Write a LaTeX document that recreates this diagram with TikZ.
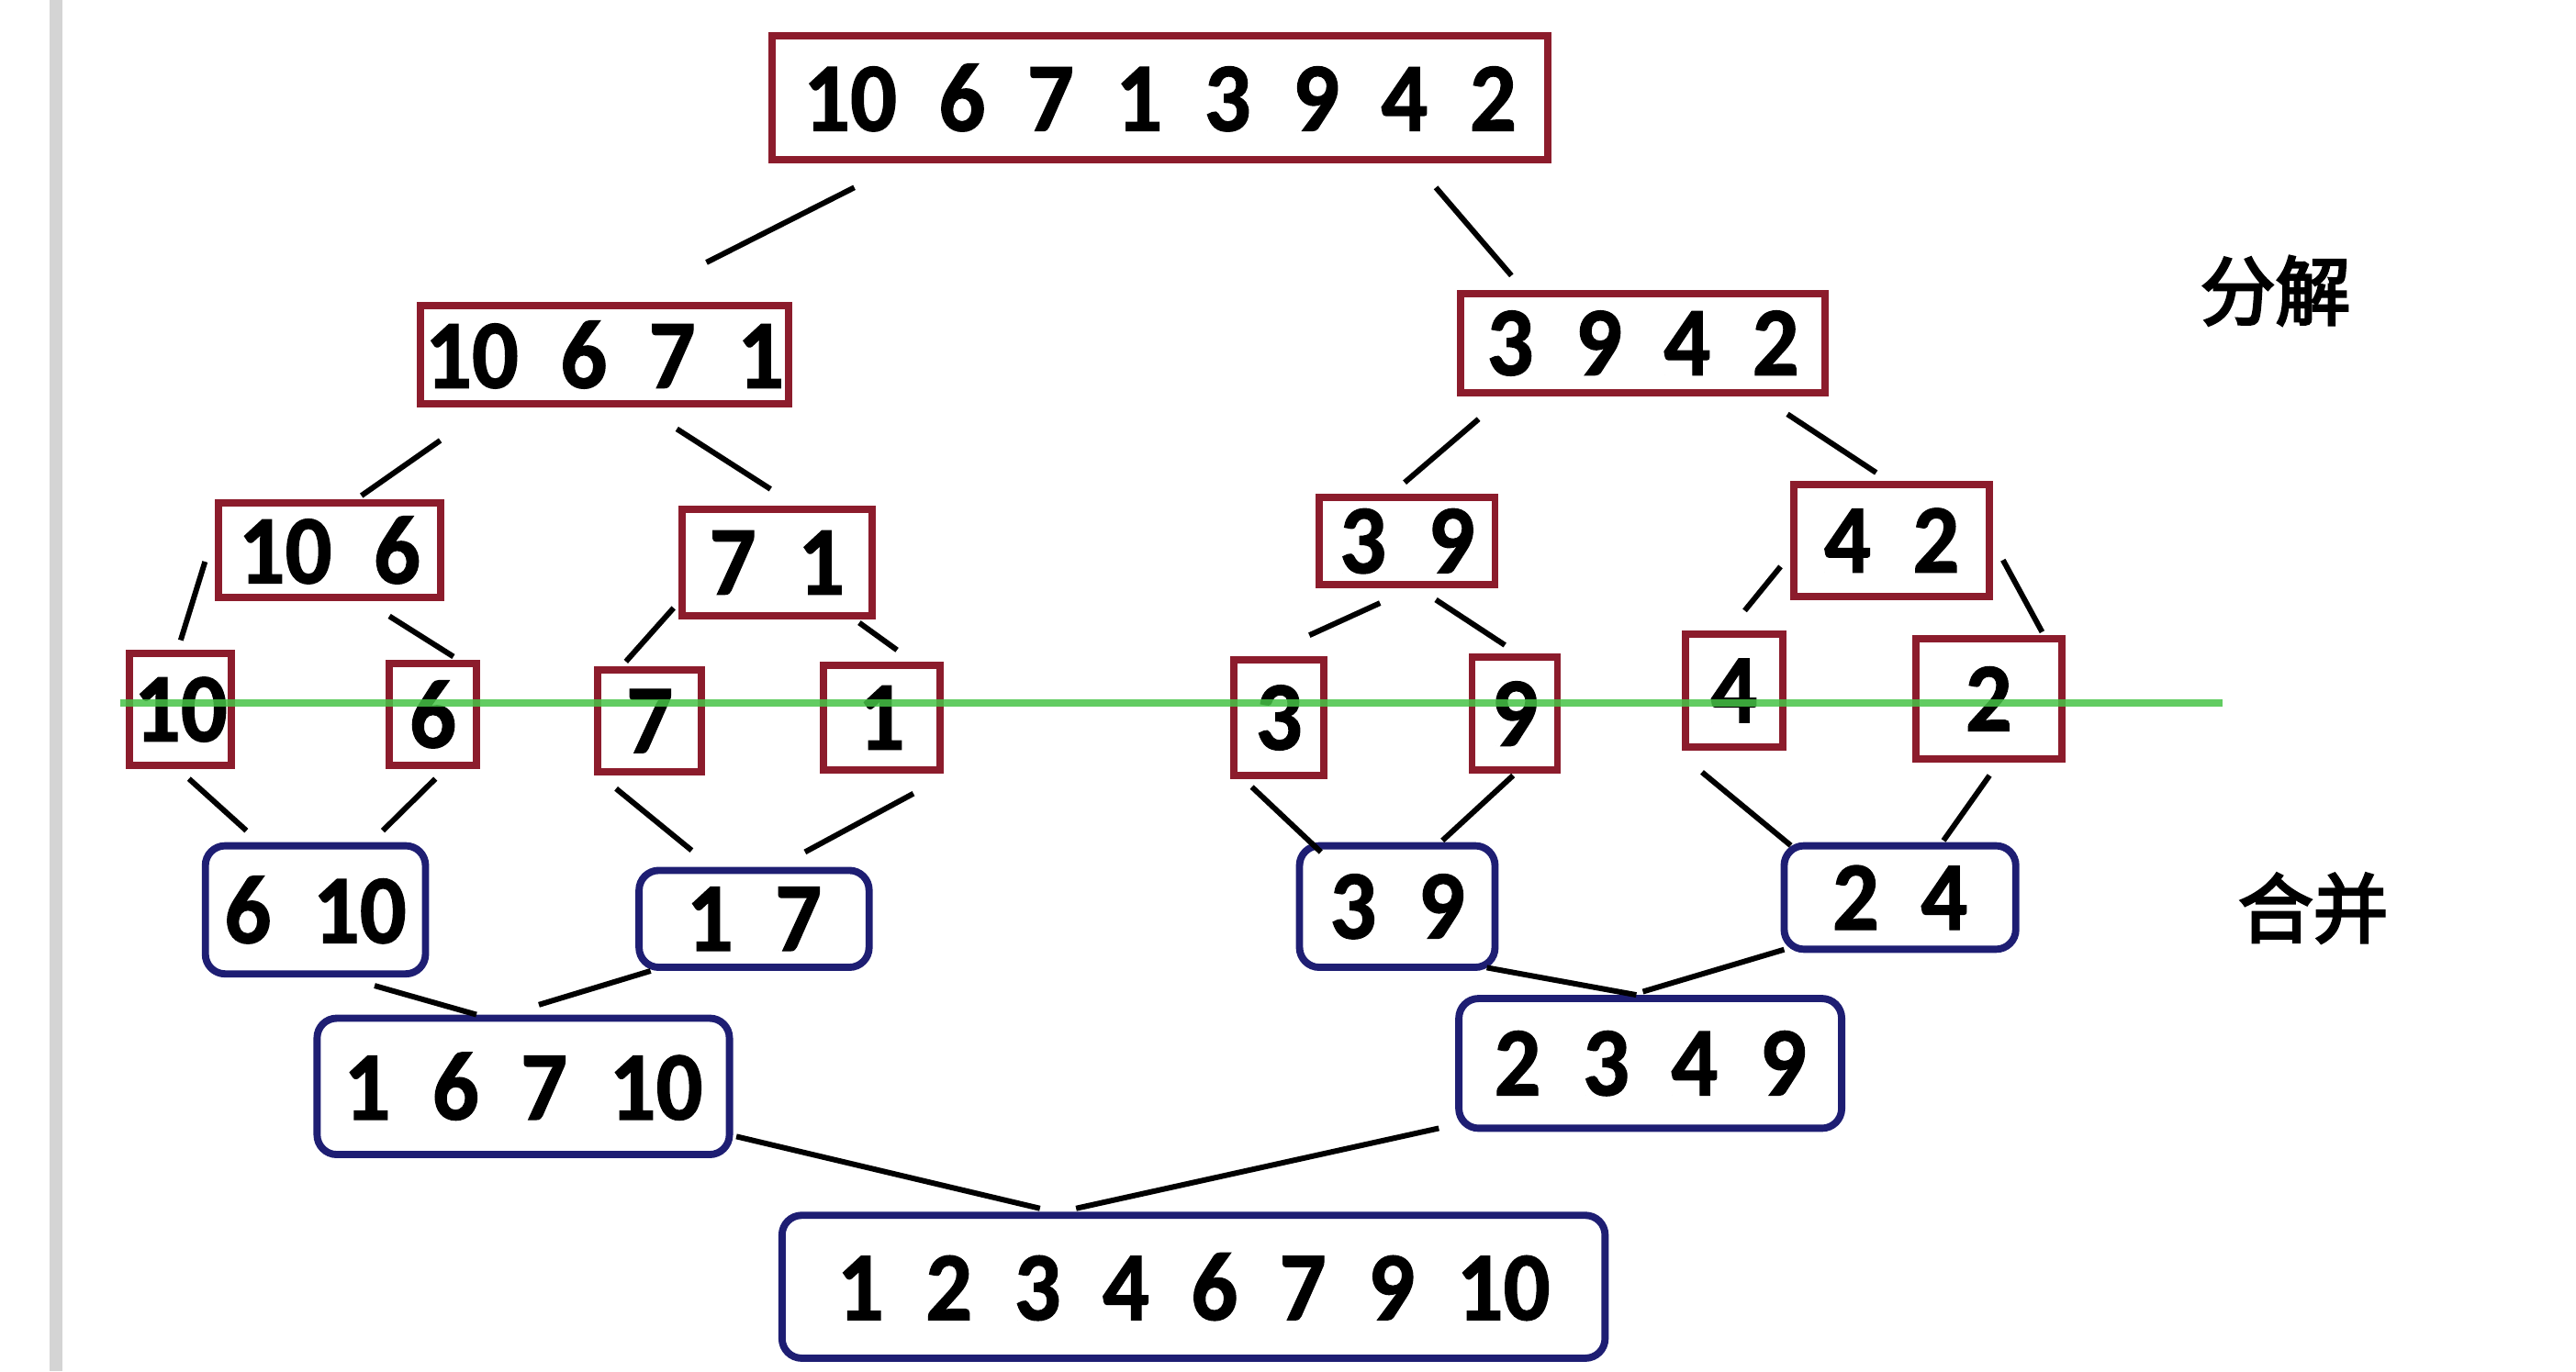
\documentclass[tikz,border=0pt]{standalone}
\usepackage{fontspec}
\setmainfont{Carlito}[BoldFeatures={FakeBold=1.2, FakeStretch=0.94}]
\newfontfamily\cjk[FakeBold=3.5]{Noto Sans CJK SC}
\definecolor{boxred}{RGB}{140,28,44}
\definecolor{boxblue}{RGB}{30,30,115}
\definecolor{cutgreen}{RGB}{70,195,70}
\begin{document}
\begin{tikzpicture}[
    split/.style={draw=boxred, line width=1.25pt, inner sep=0pt,
      font=\bfseries\fontsize{17}{17}\selectfont},
    merge/.style={draw=boxblue, line width=1.25pt, inner sep=0pt, rounded corners=0.12cm,
      font=\bfseries\fontsize{17}{17}\selectfont},
    link/.style={black, line width=0.95pt},
    tag/.style={font=\cjk\fontsize{13}{13}\selectfont}]
        \useasboundingbox (0,0) rectangle (15.68,-8.35);
        \fill[black!17] (0.30,0) rectangle (0.38,-8.35);

        % Decompor
        \node[split, minimum width=4.72cm, minimum height=0.75cm] (top) at (7.06,-0.595) {10~~6~~7~~1~~3~~9~~4~~2};
        \node[split, minimum width=2.24cm, minimum height=0.60cm] (l1) at (3.68,-2.16) {10~~6~~7~~1};
        \node[split, minimum width=2.22cm, minimum height=0.60cm] (r1) at (10.00,-2.09) {3~~9~~4~~2};
        \node[split, minimum width=1.35cm, minimum height=0.58cm] (l2a) at (2.005,-3.35) {10~~6};
        \node[split, minimum width=1.16cm, minimum height=0.65cm] (l2b) at (4.73,-3.425) {7~~1};
        \node[split, minimum width=1.07cm, minimum height=0.53cm] (r2a) at (8.565,-3.295) {3~~9};
        \node[split, minimum width=1.19cm, minimum height=0.68cm] (r2b) at (11.515,-3.29) {4~~2};

        % Elementos isolados
        \node[split, minimum width=0.62cm, minimum height=0.68cm] (s10) at (1.10,-4.32) {10};
        \node[split, minimum width=0.53cm, minimum height=0.62cm] (s6) at (2.635,-4.35) {6};
        \node[split, minimum width=0.63cm, minimum height=0.62cm] (s7) at (3.955,-4.39) {7};
        \node[split, minimum width=0.71cm, minimum height=0.64cm] (s1) at (5.365,-4.37) {1};
        \node[split, minimum width=0.55cm, minimum height=0.70cm] (s3) at (7.785,-4.37) {3};
        \node[split, minimum width=0.52cm, minimum height=0.69cm] (s9) at (9.22,-4.345) {9};
        \node[split, minimum width=0.59cm, minimum height=0.69cm] (s4) at (10.555,-4.205) {4};
        \node[split, minimum width=0.89cm, minimum height=0.73cm] (s2) at (12.105,-4.255) {2};

        % Mesclar
        \node[merge, minimum width=1.34cm, minimum height=0.78cm] (m610) at (1.92,-5.54) {6~~10};
        \node[merge, minimum width=1.40cm, minimum height=0.59cm] (m17) at (4.59,-5.595) {1~~7};
        \node[merge, minimum width=1.19cm, minimum height=0.74cm] (m39) at (8.505,-5.52) {3~~9};
        \node[merge, minimum width=1.41cm, minimum height=0.63cm] (m24) at (11.565,-5.465) {2~~4};
        \node[merge, minimum width=2.51cm, minimum height=0.83cm] (m1) at (3.185,-6.615) {1~~6~~7~~10};
        \node[merge, minimum width=2.33cm, minimum height=0.79cm] (m2) at (10.045,-6.475) {2~~3~~4~~9};
        \node[merge, minimum width=5.01cm, minimum height=0.87cm] (fin) at (7.265,-7.835) {1~~2~~3~~4~~6~~7~~9~~10};

        % Ligacoes de cima
        \draw[link] ([shift={(-1.86,-0.15)}]top.south) -- ([shift={(0.62,0.24)}]l1.north);
        \draw[link] ([shift={(1.68,-0.15)}]top.south) -- ([shift={(-0.80,0.09)}]r1.north);
        \draw[link] ([shift={(-1.00,-0.20)}]l1.south) -- ([shift={(0.195,0.02)}]l2a.north);
        \draw[link] ([shift={(0.44,-0.13)}]l1.south) -- ([shift={(-0.04,0.10)}]l2b.north);
        \draw[link] ([shift={(-1.00,-0.14)}]r1.south) -- ([shift={(-0.015,0.07)}]r2a.north);
        \draw[link] ([shift={(0.88,-0.11)}]r1.south) -- ([shift={(-0.095,0.05)}]r2b.north);
        \draw[link] ([shift={(-0.06,-0.07)}]l2a.west) -- ([shift={(0,0.06)}]s10.north);
        \draw[link] ([shift={(0.365,-0.09)}]l2a.south) -- ([shift={(0.125,0.02)}]s6.north);
        \draw[link] ([shift={(-0.63,0.07)}]l2b.south) -- ([shift={(-0.145,0.03)}]s7.north);
        \draw[link] ([shift={(0.50,-0.02)}]l2b.south) -- ([shift={(0.095,0.07)}]s1.north);
        \draw[link] ([shift={(-0.165,-0.09)}]r2a.south) -- ([shift={(0.185,0.13)}]s3.north);
        \draw[link] ([shift={(0.175,-0.07)}]r2a.south) -- ([shift={(-0.06,0.05)}]s9.north);
        \draw[link] ([shift={(-0.06,-0.16)}]r2b.west) -- ([shift={(0.065,0.12)}]s4.north);
        \draw[link] ([shift={(0.06,-0.12)}]r2b.east) -- ([shift={(0.325,0.02)}]s2.north);

        % Ligacoes de baixo
        \draw[link] ([shift={(0.05,-0.06)}]s10.south) -- ([shift={(-0.42,0.07)}]m610.north);
        \draw[link] ([shift={(0.015,-0.06)}]s6.south) -- ([shift={(0.41,0.07)}]m610.north);
        \draw[link] ([shift={(-0.205,-0.08)}]s7.south) -- ([shift={(-0.38,0.10)}]m17.north);
        \draw[link] ([shift={(0.195,-0.12)}]s1.south) -- ([shift={(0.31,0.09)}]m17.north);
        \draw[link] ([shift={(-0.165,-0.05)}]s3.south) -- ([shift={(-0.465,-0.06)}]m39.north);
        \draw[link] ([shift={(-0.01,-0.01)}]s9.south) -- ([shift={(0.275,0.01)}]m39.north);
        \draw[link] ([shift={(-0.195,-0.13)}]s4.south) -- ([shift={(-0.665,-0.02)}]m24.north);
        \draw[link] ([shift={(0.005,-0.08)}]s2.south) -- ([shift={(0.265,0.01)}]m24.north);
        \draw[link] ([shift={(0.36,-0.05)}]m610.south) -- ([shift={(-0.285,0)}]m1.north);
        \draw[link] ([shift={(-0.63,0)}]m17.south) -- ([shift={(0.095,0.06)}]m1.north);
        \draw[link] ([shift={(0.545,0.02)}]m39.south) -- ([shift={(-0.085,0)}]m2.north);
        \draw[link] ([shift={(-0.705,0.02)}]m24.south) -- ([shift={(-0.045,0.02)}]m2.north);
        \draw[link] ([shift={(0.02,-0.305)}]m1.east) -- ([shift={(-0.935,0.02)}]fin.north);
        \draw[link] ([shift={(-0.10,-0.395)}]m2.west) -- ([shift={(-0.715,0.02)}]fin.north);

        % Linha verde
        \coordinate (gl) at (0.73,-4.28);
        \coordinate (gr) at (13.53,-4.28);
        \draw[cutgreen, line width=1.2pt, opacity=0.85] (gl) -- (gr);

        % Rotulos
        \node[tag] (fenjie) at (13.85,-1.77) {分解};
        \node[tag] (hebing) at (14.08,-5.53) {合并};
    \end{tikzpicture}
\end{document}
